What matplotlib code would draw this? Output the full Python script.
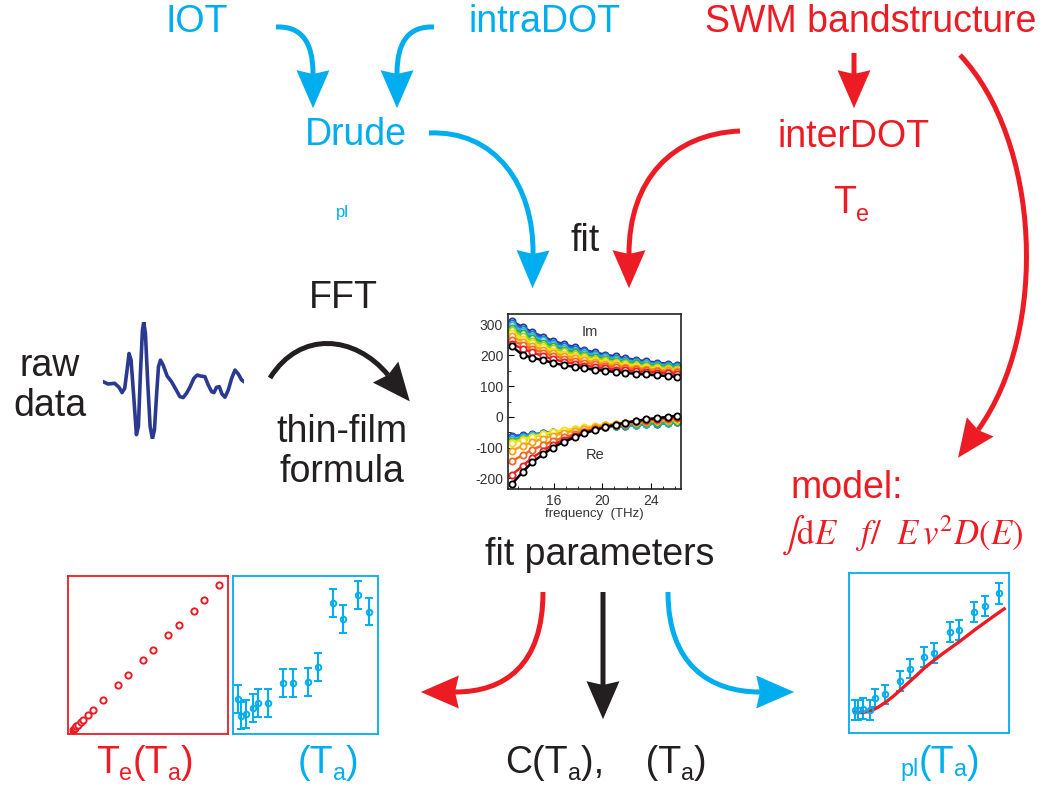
import numpy as np
import matplotlib
matplotlib.use("Agg")
import matplotlib.pyplot as plt
from matplotlib.path import Path
from matplotlib.patches import PathPatch, Polygon

plt.rcParams['font.family'] = ['Liberation Sans', 'DejaVu Sans']
plt.rcParams['axes.unicode_minus'] = False

BLUE = '#00aeef'
RED = '#ed1c24'
BLACK = '#231f20'

# spectra: frequency in THz, Im and Re parts for each temperature
freq = [12.5, 13.4, 14.2, 15.1, 15.9, 16.8, 17.7, 18.5, 19.4, 20.2, 21.1, 21.9, 22.8, 23.6, 24.5, 25.4, 26.2]
spec_colors = ['#2b3a9a', '#1f6fd0', '#29b6e6', '#2eaa4a', '#9acd32', '#f5e10a', '#f7a21b', '#f26a21', '#e8202a', '#000000']
im_part = [
    [312, 293, 276, 261, 248, 237, 227, 218, 210, 203, 197, 191, 186, 181, 177, 173, 168],
    [305, 287, 270, 255, 242, 231, 221, 213, 205, 198, 192, 186, 181, 177, 173, 169, 165],
    [298, 280, 263, 249, 236, 225, 216, 208, 200, 194, 188, 183, 178, 174, 170, 166, 162],
    [290, 272, 256, 242, 230, 219, 210, 202, 195, 189, 183, 178, 174, 170, 166, 162, 159],
    [282, 264, 248, 235, 223, 213, 204, 197, 190, 184, 179, 174, 170, 166, 162, 159, 156],
    [272, 255, 240, 227, 216, 206, 198, 191, 185, 179, 174, 169, 165, 161, 158, 155, 152],
    [262, 245, 231, 218, 208, 199, 191, 184, 178, 173, 168, 164, 160, 157, 154, 151, 148],
    [250, 234, 221, 209, 199, 190, 183, 177, 171, 166, 162, 158, 155, 152, 149, 147, 145],
    [238, 222, 210, 198, 188, 180, 173, 167, 162, 158, 154, 151, 148, 146, 144, 142, 140],
    [230, 202, 193, 184, 176, 168, 163, 158, 153, 150, 146, 143, 140, 138, 135, 133, 130],
]
re_part = [
    [-62, -60, -57, -53, -50, -46, -43, -40, -37, -34, -31, -29, -26, -24, -22, -20, -18],
    [-66, -62, -58, -54, -50, -46, -43, -40, -37, -34, -31, -29, -26, -24, -22, -20, -18],
    [-72, -66, -60, -55, -51, -47, -43, -39, -36, -33, -30, -28, -25, -23, -21, -19, -17],
    [-80, -71, -64, -58, -52, -47, -43, -39, -35, -32, -29, -26, -23, -21, -19, -17, -16],
    [-82, -72, -64, -57, -50, -45, -40, -36, -32, -28, -25, -22, -19, -17, -14, -12, -10],
    [-85, -74, -65, -57, -50, -44, -39, -34, -30, -26, -22, -19, -16, -13, -10, -8, -6],
    [-110, -95, -82, -71, -61, -53, -45, -39, -33, -28, -23, -19, -15, -12, -9, -6, -3],
    [-145, -125, -107, -92, -79, -67, -57, -48, -40, -33, -27, -22, -17, -13, -9, -6, -3],
    [-190, -160, -133, -110, -91, -75, -62, -50, -40, -32, -25, -19, -14, -10, -6, -3, 0],
    [-220, -180, -148, -122, -100, -82, -67, -54, -43, -34, -26, -19, -13, -8, -4, 0, 4],
]

# time-domain transient
wave_t = [40, 55, 75, 88, 97, 105, 112, 118, 124, 132, 140, 146, 152, 158, 162, 167, 174, 181, 188, 194,
          200, 206, 212, 220, 232, 245, 258, 270, 280, 290, 300, 312, 322, 332, 345, 355, 365, 372, 380,
          388, 396, 405, 415, 425, 435, 445, 455, 462]
wave_v = [5, -2, 0, -12, -28, -15, 40, 90, 70, -40, -155, -130, 30, 160, 185, 150, 0, -130, -168, -140,
          -40, 50, 70, 55, 22, 5, -18, -40, -43, -30, -12, 15, 25, 22, 20, -5, -25, -28, -12,
          -10, -32, -42, -20, 15, 40, 28, 10, 5]

# electron temperature vs lattice temperature
te_ta = [0.031, 0.038, 0.044, 0.052, 0.063, 0.079, 0.096, 0.128, 0.159, 0.220, 0.314, 0.377, 0.471,
         0.533, 0.628, 0.692, 0.785, 0.847, 0.944]
te_te = [0.027, 0.034, 0.040, 0.048, 0.059, 0.078, 0.091, 0.122, 0.154, 0.217, 0.312, 0.375, 0.469,
         0.533, 0.627, 0.688, 0.781, 0.848, 0.943]

# scattering rate vs lattice temperature
tau_ta = [0.035, 0.055, 0.088, 0.138, 0.173, 0.242, 0.346, 0.415, 0.518, 0.588, 0.691, 0.760, 0.864, 0.935]
tau_val = [0.221, 0.116, 0.126, 0.164, 0.194, 0.194, 0.322, 0.322, 0.329, 0.425, 0.827, 0.728, 0.878, 0.775]
tau_err = [0.088, 0.085, 0.088, 0.088, 0.088, 0.088, 0.088, 0.088, 0.088, 0.088, 0.088, 0.088, 0.088, 0.088]

# plasma frequency vs lattice temperature, with model curve
wpl_ta = [0.040, 0.056, 0.085, 0.129, 0.160, 0.223, 0.317, 0.379, 0.471, 0.533, 0.629, 0.688, 0.783, 0.848, 0.938]
wpl_val = [0.142, 0.142, 0.153, 0.142, 0.220, 0.241, 0.324, 0.402, 0.475, 0.498, 0.630, 0.644, 0.755, 0.795, 0.872]
wpl_err = [0.063, 0.063, 0.063, 0.063, 0.058, 0.058, 0.063, 0.058, 0.063, 0.063, 0.063, 0.063, 0.063, 0.063, 0.063]
model_ta = [0.035, 0.08, 0.13, 0.18, 0.23, 0.28, 0.32, 0.40, 0.48, 0.58, 0.69, 0.80, 0.90, 0.97]
model_val = [0.128, 0.128, 0.135, 0.160, 0.193, 0.232, 0.268, 0.340, 0.414, 0.492, 0.571, 0.655, 0.727, 0.776]

W, H = 1050, 790
fig = plt.figure(figsize=(W / 100, H / 100), dpi=100)
ax = fig.add_axes([0, 0, 1, 1])
ax.set_xlim(0, W)
ax.set_ylim(H, 0)
ax.axis('off')
renderer = fig.canvas.get_renderer()


def px_axes(x0, y0, x1, y1):
    return fig.add_axes([x0 / W, 1 - y1 / H, (x1 - x0) / W, (y1 - y0) / H])


def arrow(p0, p1, p2, p3, color, lw=3.6, L=38, hw=33):
    verts = [p0, p1, p2, p3]
    codes = [Path.MOVETO, Path.CURVE4, Path.CURVE4, Path.CURVE4]
    ax.add_patch(PathPatch(Path(verts, codes), fc='none', ec=color, lw=lw, capstyle='butt'))
    d = np.array(p3, float) - np.array(p2, float)
    if np.hypot(*d) < 1e-6:
        d = np.array(p3, float) - np.array(p0, float)
    d = d / np.hypot(*d)
    n = np.array([-d[1], d[0]])
    notch = np.array(p3, float)
    tip = notch + d * 0.9 * L
    back = tip - d * L
    head = [tip, back + n * hw / 2, notch, back - n * hw / 2]
    ax.add_patch(Polygon(head, closed=True, fc=color, ec='none'))


def straight(p0, p3, color):
    p0 = np.array(p0, float)
    p3 = np.array(p3, float)
    arrow(p0, p0 + (p3 - p0) / 3, p0 + 2 * (p3 - p0) / 3, p3, color)


def rich(x, base, parts, color, size=27, sub_scale=0.62, drop=7):
    # pieces laid left to right on one baseline, subscripts smaller and dropped
    items = []
    total = 0
    for s, sub in parts:
        t = ax.text(0, 0, s, fontsize=size * sub_scale if sub else size, color=color,
                    ha='left', va='baseline')
        w = t.get_window_extent(renderer).width
        items.append((t, w, sub))
        total += w
    xc = x - total / 2
    for t, w, sub in items:
        t.set_position((xc, base + (drop if sub else 0)))
        xc += w


# text labels
big = 27
ax.text(197, 22, 'IOT', color=BLUE, fontsize=big, ha='center', va='center')
ax.text(545, 22, 'intraDOT', color=BLUE, fontsize=big, ha='center', va='center')
ax.text(871, 22, 'SWM bandstructure', color=RED, fontsize=big, ha='center', va='center')
ax.text(356, 135, 'Drude', color=BLUE, fontsize=big, ha='center', va='center')
ax.text(342, 213, 'pl', color=BLUE, fontsize=12, ha='center', va='center')
ax.text(854, 137, 'interDOT', color=RED, fontsize=big, ha='center', va='center')
rich(851, 213, [('T', False), ('e', True)], RED, drop=8)
ax.text(585, 241, 'fit', color=BLACK, fontsize=big, ha='center', va='center')
ax.text(343, 298, 'FFT', color=BLACK, fontsize=big, ha='center', va='center')
ax.text(50, 386, 'raw\ndata', color=BLACK, fontsize=big, ha='center', va='center', linespacing=1.15)
ax.text(342, 452, 'thin-film\nformula', color=BLACK, fontsize=big, ha='center', va='center', linespacing=1.15)
ax.text(600, 555, 'fit parameters', color=BLACK, fontsize=big, ha='center', va='center')
ax.text(847, 488, 'model:', color=RED, fontsize=big, ha='center', va='center')
ax.text(902, 535, r'$\int\mathrm{d}E\ \ \ f/\ \ E\,v^2D(E)$', color=RED, fontsize=25,
        ha='center', va='center', math_fontfamily='stix')
rich(145, 773, [('T', False), ('e', True), ('(T', False), ('a', True), (')', False)], RED)
rich(328, 773, [('(T', False), ('a', True), (')', False)], BLUE)
rich(606, 773, [('C(T', False), ('a', True), ('),    (T', False), ('a', True), (')', False)], BLACK)
rich(940, 773, [('pl', True), ('(T', False), ('a', True), (')', False)], BLUE, drop=3)

# arrows
arrow((276, 27), (300, 26), (313, 40), (313, 74), BLUE)
arrow((434, 27), (410, 26), (397, 40), (397, 74), BLUE)
arrow((429, 133), (495, 130), (534, 185), (533, 254), BLUE)
arrow((740, 131), (672, 134), (629, 180), (629, 254), RED)
straight((854, 53), (854, 74), RED)
arrow((960, 55), (1040, 140), (1050, 330), (978, 430), RED)
arrow((270, 378), (300, 330), (355, 335), (388, 375), BLACK)
arrow((543, 592), (543, 665), (505, 692), (455, 692), RED)
straight((603, 592), (603, 685), BLACK)
arrow((668, 592), (668, 665), (710, 692), (760, 692), BLUE)

# raw transient
axw = px_axes(103, 322, 244, 439)
axw.plot(wave_t, wave_v, color='#2b3990', lw=2.6)
axw.set_xlim(40, 462)
axw.set_ylim(-168, 185)
axw.axis('off')

# optical conductivity spectra
axs = px_axes(508, 314, 681, 489)
for c, im, re in zip(spec_colors, im_part, re_part):
    axs.plot(freq, im, color=c, lw=1.8, marker='o', ms=4.5, mfc='white', mec=c, mew=1.3)
    axs.plot(freq, re, color=c, lw=1.8, marker='o', ms=4.5, mfc='white', mec=c, mew=1.3)
axs.set_xlim(12.2, 26.5)
axs.set_ylim(-235, 335)
axs.set_xticks([16, 20, 24])
axs.set_xticks(np.arange(13, 27), minor=True)
axs.set_yticks([-200, -100, 0, 100, 200, 300])
axs.set_yticks(np.arange(-200, 301, 50), minor=True)
axs.tick_params(direction='in', labelsize=10, labelcolor='#333333', length=4, top=False, right=False)
axs.tick_params(which='minor', direction='in', length=2.5)
axs.set_xlabel('frequency  (THz)', fontsize=9.5, color='#333333', labelpad=0)
axs.text(19.0, 275, 'Im', fontsize=10.5, color='#333333', ha='center', va='center')
axs.text(19.4, -125, 'Re', fontsize=10.5, color='#333333', ha='center', va='center')
for s in axs.spines.values():
    s.set_linewidth(1.2)
    s.set_color('#222222')


def small_box(x0, y0, x1, y1, color):
    a = px_axes(x0, y0, x1, y1)
    a.set_xlim(0, 1)
    a.set_ylim(0, 1)
    a.set_xticks([])
    a.set_yticks([])
    for s in a.spines.values():
        s.set_color(color)
        s.set_linewidth(1.3)
    return a


a1 = small_box(68, 576, 228, 734, RED)
a1.plot(te_ta, te_te, 'o', ms=4.5, mfc='white', mec=RED, mew=1.4)

a2 = small_box(233, 576, 378, 734, BLUE)
a2.errorbar(tau_ta, tau_val, yerr=tau_err, fmt='o', ms=4, mfc='none', mec=BLUE, mew=1.4,
            ecolor=BLUE, elinewidth=1.5, capsize=3, capthick=1.5)

a3 = small_box(849, 573, 1009, 733, BLUE)
a3.errorbar(wpl_ta, wpl_val, yerr=wpl_err, fmt='o', ms=4, mfc='none', mec=BLUE, mew=1.4,
            ecolor=BLUE, elinewidth=1.5, capsize=3, capthick=1.5)
a3.plot(model_ta, model_val, color=RED, lw=2.4)

fig.savefig('out.png', dpi=100)
